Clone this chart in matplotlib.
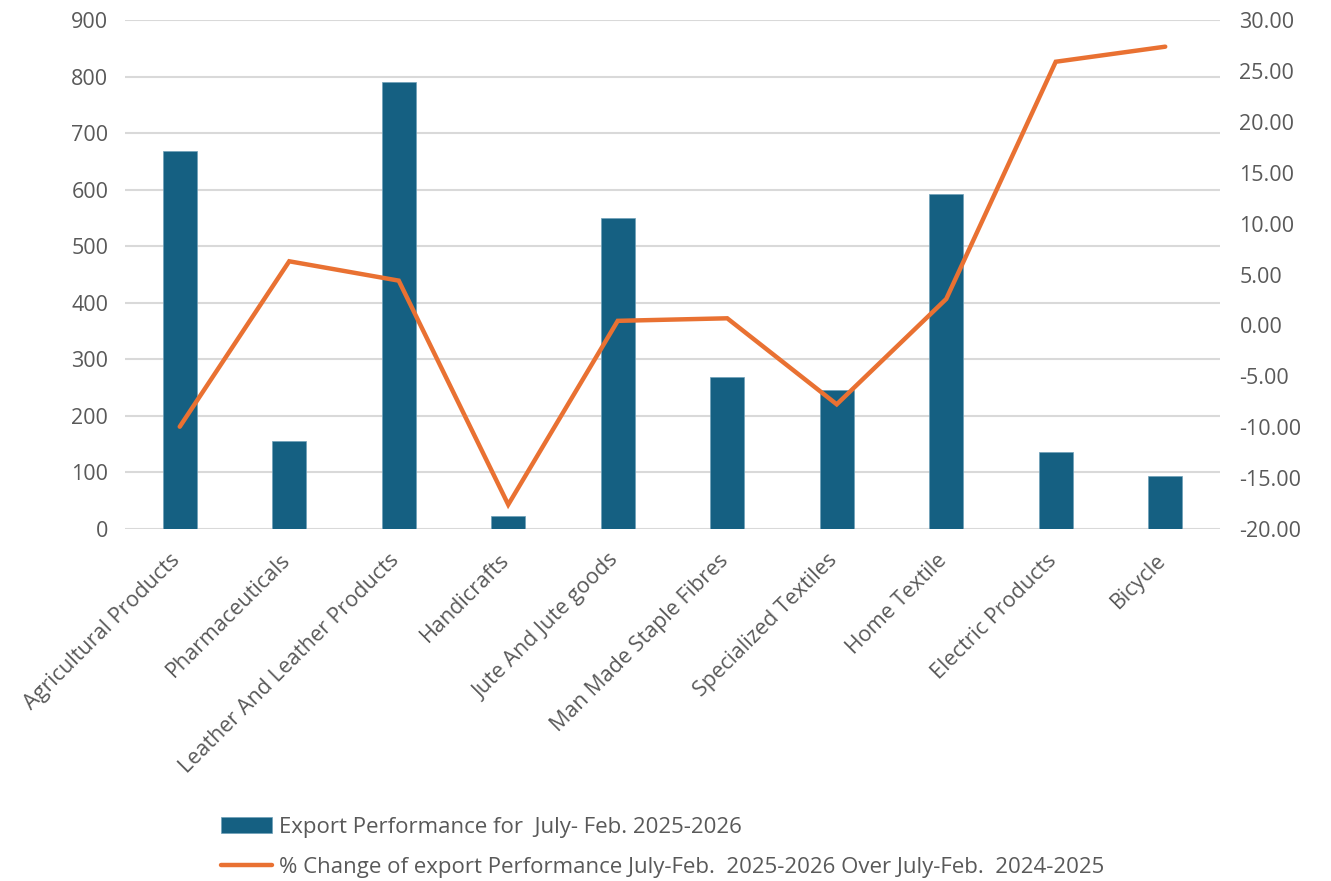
import numpy as np
import matplotlib.pyplot as plt
from matplotlib.transforms import ScaledTranslation

plt.rcParams['font.family'] = ['Open Sans', 'DejaVu Sans']

# Export performance by product group (bars, left axis) and % change (line, right axis)
categories = ["Agricultural Products", "Pharmaceuticals", "Leather And Leather Products",
              "Handicrafts", "Jute And Jute goods", "Man Made Staple Fibres",
              "Specialized Textiles", "Home Textile", "Electric Products", "Bicycle"]
export_value = [668, 155, 791, 23, 550, 269, 246, 593, 137, 94]
pct_change = [-9.95, 6.3, 4.4, -17.6, 0.45, 0.7, -7.75, 2.6, 25.9, 27.38]

bar_label = "Export Performance for  July- Feb. 2025-2026"
line_label = "% Change of export Performance July-Feb.  2025-2026 Over July-Feb.  2024-2025"

bar_color = "#156082"
line_color = "#E97132"
text_color = "#595959"
grid_color = "#D9D9D9"
fs = 15.5

fig = plt.figure(figsize=(13.31, 8.81), dpi=100)
ax = fig.add_axes([0.0939, 0.3995, 0.8227, 0.5778])
ax2 = ax.twinx()

x = np.arange(len(categories))
ax.bar(x, export_value, width=0.31, color=bar_color, edgecolor="#6FA0B8",
       linewidth=0.5, label=bar_label, zorder=2)
ax2.plot(x, pct_change, color=line_color, linewidth=3.2, solid_capstyle="round",
         solid_joinstyle="miter", label=line_label, zorder=3)

ax.set_xlim(-0.5, len(categories) - 0.5)
ax.set_ylim(0, 900)
ax.set_yticks(np.arange(0, 901, 100))
ax2.set_ylim(-20, 30)
ax2.set_yticks(np.arange(-20, 31, 5))
ax2.set_yticklabels([f"{v:.2f}" for v in np.arange(-20, 31, 5)])

ax.yaxis.grid(True, color=grid_color, linewidth=1.5, zorder=0)
ax.set_axisbelow(True)
for a in (ax, ax2):
    for s in a.spines.values():
        s.set_visible(False)
    a.tick_params(length=0, colors=text_color, labelsize=fs)
ax.tick_params(axis='y', pad=12)
ax2.tick_params(axis='y', pad=14)

ax.set_xticks(x)
ax.set_xticklabels(categories, rotation=45, ha="right", rotation_mode="anchor",
                   fontsize=fs, color=text_color)
ax.tick_params(axis='x', pad=15)
shift = ScaledTranslation(-7 / 72, 0, fig.dpi_scale_trans)
for lbl in ax.get_xticklabels():
    lbl.set_transform(lbl.get_transform() + shift)

handles = [ax.patches[0], ax2.lines[0]]
leg = fig.legend(handles, [bar_label, line_label], loc="upper left",
                 bbox_to_anchor=(0.166, 0.073), frameon=False, fontsize=16,
                 labelcolor=text_color, handlelength=2.3, handletextpad=0.33,
                 labelspacing=0.88, borderpad=0, borderaxespad=0)

fig.savefig("out.png", dpi=100)
